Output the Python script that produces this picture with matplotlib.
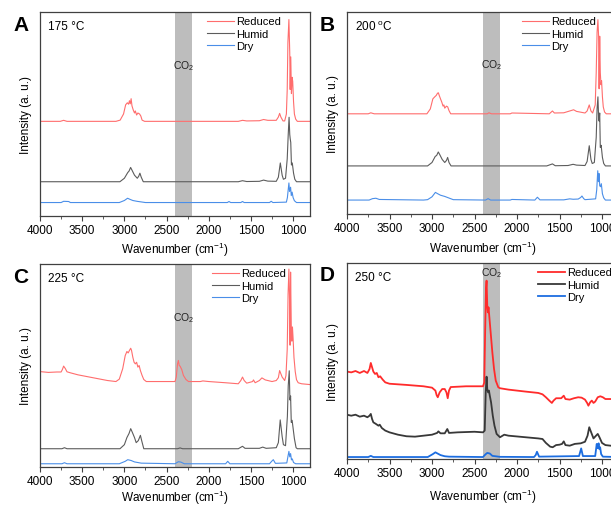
import numpy as np
import matplotlib
matplotlib.use('Agg')
import matplotlib.pyplot as plt
from matplotlib.ticker import MultipleLocator

plt.rcParams['font.family'] = ['Liberation Sans', 'DejaVu Sans']
plt.rcParams['mathtext.fontset'] = 'custom'
plt.rcParams['mathtext.rm'] = 'Liberation Sans'
plt.rcParams['mathtext.it'] = 'Liberation Sans:italic'
plt.rcParams['mathtext.bf'] = 'Liberation Sans:bold'

# ---- data (wavenumber, intensity in a.u. 0-100) ----
labels = ['Reduced', 'Humid', 'Dry']
temps = ['175 °C', '200 $^{\\rm o}$C', '225 °C', '250 °C']
panel_letters = ['A', 'B', 'C', 'D']

# A, 175 C
a_red_wn = [4000, 3760, 3720, 3680, 3100, 3050, 3010, 2985, 2965, 2950, 2940, 2930, 2920, 2910, 2895,
            2880, 2870, 2855, 2840, 2820, 2805, 2790, 2760, 1650, 1600, 1550, 1400, 1350, 1300, 1200,
            1175, 1160, 1145, 1120, 1100, 1080, 1070, 1062, 1050, 1045, 1040, 1035, 1028, 1020, 1012,
            1005, 995, 985, 970, 950, 800]
a_red = [46.4, 46.4, 46.9, 46.4, 46.4, 47.0, 50.0, 54.5, 55.5, 54.8, 56.5, 55.0, 57.5, 54.0, 52.0,
         50.5, 51.5, 49.5, 50.5, 50.0, 49.0, 47.0, 46.4, 46.4, 46.9, 46.6, 46.7, 47.3, 46.9, 46.9,
         48.5, 50.3, 48.5, 46.6, 46.6, 50.0, 62.0, 85.0, 96.3, 88.0, 80.0, 62.0, 78.0, 60.0, 68.0,
         66.0, 56.0, 50.0, 47.5, 46.4, 46.4]
a_hum_wn = [4000, 3100, 3053, 3000, 2960, 2945, 2926, 2910, 2880, 2847, 2830, 2816, 2800, 2776, 1650,
            1600, 1550, 1400, 1350, 1300, 1200, 1175, 1152, 1130, 1115, 1090, 1070, 1058, 1048, 1040,
            1035, 1028, 1020, 1010, 995, 980, 960, 800]
a_hum = [16.8, 16.8, 16.8, 18.5, 21.3, 22.0, 23.8, 22.5, 20.0, 18.5, 19.5, 21.0, 19.0, 16.8, 16.8,
         17.3, 16.9, 17.0, 17.6, 17.1, 17.0, 19.0, 26.0, 20.0, 18.0, 18.5, 28.0, 40.0, 48.4, 40.0,
         38.0, 36.0, 25.0, 26.0, 21.0, 18.0, 16.8, 16.8]
a_dry_wn = [4000, 3750, 3720, 3660, 3640, 3060, 3000, 2962, 2930, 2900, 2850, 2800, 2750, 1780, 1760,
            1740, 1620, 1600, 1580, 1280, 1260, 1240, 1080, 1068, 1050, 1042, 1030, 1022, 1012, 1000,
            985, 960, 800]
a_dry = [6.6, 6.6, 7.2, 7.1, 6.6, 6.6, 7.6, 8.7, 8.1, 7.6, 7.2, 6.9, 6.6, 6.6, 7.1,
         6.6, 6.6, 7.1, 6.6, 6.6, 7.2, 6.6, 6.8, 9.0, 16.2, 12.0, 14.1, 10.0, 11.7, 9.0,
         7.5, 6.6, 6.6]

# B, 200 C
b_red_wn = [4000, 3750, 3720, 3680, 3060, 3020, 2990, 2970, 2950, 2935, 2925, 2915, 2900, 2885, 2870,
            2860, 2850, 2830, 2815, 2800, 2780, 2350, 2330, 2300, 2080, 2060, 1620, 1583, 1560, 1450,
            1380, 1334, 1300, 1200, 1175, 1150, 1130, 1110, 1080, 1068, 1058, 1048, 1040, 1034, 1027,
            1020, 1012, 1005, 995, 985, 970, 950, 800]
b_red = [49.6, 49.6, 50.1, 49.6, 49.6, 52.0, 57.0, 57.9, 58.7, 59.8, 60.0, 58.7, 57.0, 55.4, 53.4,
         54.0, 52.4, 53.4, 53.0, 51.2, 49.6, 49.6, 50.1, 49.6, 49.6, 50.0, 49.6, 51.0, 50.0, 50.1,
         51.0, 51.6, 50.8, 50.0, 51.0, 54.0, 51.0, 50.0, 54.0, 70.0, 90.0, 96.2, 88.0, 62.0, 88.0,
         70.0, 64.0, 66.0, 58.0, 53.0, 50.5, 49.6, 49.6]
b_hum_wn = [4000, 3100, 3052, 3000, 2962, 2945, 2926, 2910, 2880, 2850, 2830, 2816, 2800, 2776, 1650,
            1583, 1550, 1400, 1340, 1300, 1200, 1175, 1150, 1130, 1115, 1090, 1068, 1058, 1048, 1040,
            1034, 1027, 1020, 1010, 995, 980, 960, 800]
b_hum = [23.8, 23.8, 23.8, 25.5, 28.5, 29.0, 30.7, 29.5, 27.0, 25.5, 26.5, 28.0, 25.5, 23.8, 23.8,
         24.8, 23.9, 24.0, 24.6, 24.2, 24.0, 26.0, 33.8, 27.0, 25.0, 25.5, 38.0, 52.0, 58.0, 48.0,
         46.0, 50.0, 33.0, 34.0, 28.0, 25.0, 23.8, 23.8]
b_dry_wn = [4000, 3740, 3700, 3660, 3620, 3100, 3052, 3000, 2960, 2940, 2900, 2850, 2800, 2750, 2370,
            2340, 2310, 2080, 2060, 1790, 1760, 1730, 1450, 1380, 1340, 1280, 1250, 1236, 1215, 1200,
            1075, 1062, 1050, 1042, 1034, 1027, 1018, 1008, 995, 980, 960, 800]
b_dry = [6.9, 6.9, 7.6, 7.8, 7.2, 6.9, 7.1, 8.5, 10.7, 10.2, 9.3, 8.7, 7.9, 7.1, 6.9,
         7.6, 6.9, 6.9, 7.2, 6.9, 8.3, 7.0, 7.0, 7.5, 7.3, 7.4, 8.2, 8.9, 7.6, 7.1,
         7.5, 12.0, 21.4, 16.0, 20.0, 14.0, 13.5, 15.0, 10.0, 8.0, 6.9, 6.9]

# C, 225 C
c_red_wn = [4000, 3900, 3800, 3750, 3735, 3720, 3700, 3680, 3640, 3550, 3450, 3300, 3200, 3100, 3060,
            3020, 2990, 2970, 2955, 2940, 2925, 2915, 2900, 2885, 2870, 2855, 2840, 2825, 2810, 2790,
            2770, 2740, 2400, 2385, 2370, 2360, 2350, 2340, 2320, 2300, 2270, 2240, 2100, 2070, 2000,
            1800, 1650, 1620, 1600, 1580, 1550, 1480, 1470, 1450, 1400, 1370, 1330, 1250, 1200, 1175,
            1160, 1130, 1100, 1085, 1070, 1060, 1050, 1042, 1036, 1030, 1022, 1015, 1008, 1000, 990,
            975, 960, 940, 900, 800]
c_red = [47.0, 46.6, 46.8, 46.8, 48.0, 49.7, 48.5, 46.9, 46.4, 45.4, 44.6, 43.4, 42.6, 42.1, 43.3,
         48.4, 54.9, 56.9, 56.2, 57.4, 58.5, 57.4, 54.1, 51.6, 50.8, 51.6, 49.2, 50.0, 47.5, 45.1,
         43.1, 42.1, 42.1, 44.3, 50.8, 52.5, 50.0, 49.7, 48.0, 45.1, 43.1, 42.1, 42.1, 42.4, 42.1,
         41.5, 41.0, 42.6, 44.3, 42.6, 41.3, 42.1, 42.9, 41.5, 42.6, 43.9, 42.9, 42.1, 42.6, 44.0,
         47.5, 44.3, 42.6, 45.0, 58.0, 85.0, 97.5, 82.0, 60.0, 96.0, 70.0, 62.0, 69.0, 63.0, 54.0,
         47.0, 43.0, 41.5, 41.0, 40.6]
c_hum_wn = [4000, 3740, 3710, 3680, 3100, 3052, 3000, 2970, 2945, 2925, 2905, 2880, 2860, 2835, 2810,
            2795, 2770, 2370, 2340, 2310, 1650, 1600, 1570, 1400, 1360, 1320, 1200, 1175, 1153, 1130,
            1115, 1090, 1068, 1058, 1046, 1038, 1030, 1022, 1012, 1000, 985, 965, 950, 800]
c_hum = [9.0, 9.0, 9.5, 9.0, 9.0, 9.0, 11.0, 14.5, 16.5, 18.9, 17.0, 14.5, 12.0, 13.0, 15.6,
         13.0, 9.0, 9.0, 9.4, 9.0, 9.0, 10.2, 9.2, 9.2, 9.8, 9.2, 9.5, 12.0, 23.2, 15.0,
         11.0, 10.5, 25.0, 40.0, 47.4, 33.0, 35.0, 22.0, 23.0, 19.0, 14.0, 9.5, 9.0, 9.0]
c_dry_wn = [4000, 3740, 3710, 3680, 3060, 2990, 2960, 2920, 2880, 2800, 2400, 2360, 2330, 2290, 1800,
            1775, 1750, 1280, 1250, 1235, 1210, 1075, 1060, 1050, 1040, 1030, 1020, 1010, 995, 970, 800]
c_dry = [1.6, 1.6, 2.1, 1.6, 1.6, 2.8, 3.6, 3.2, 2.5, 1.9, 1.6, 2.6, 2.4, 1.6, 1.6,
         2.8, 1.6, 1.6, 3.0, 3.6, 1.8, 2.0, 5.5, 7.7, 5.0, 6.6, 3.5, 4.0, 2.2, 1.6, 1.6]

# D, 250 C
d_red_wn = [4000, 3950, 3900, 3850, 3800, 3760, 3735, 3720, 3705, 3690, 3670, 3650, 3630, 3610, 3580,
            3550, 3500, 3400, 3300, 3100, 3000, 2960, 2945, 2932, 2910, 2880, 2850, 2830, 2815, 2800,
            2780, 2600, 2400, 2385, 2375, 2365, 2358, 2350, 2343, 2335, 2325, 2310, 2290, 2270, 2250,
            2220, 2200, 2100, 1900, 1750, 1700, 1660, 1620, 1590, 1570, 1540, 1480, 1450, 1430, 1380,
            1330, 1280, 1240, 1200, 1175, 1160, 1140, 1120, 1100, 1080, 1050, 1020, 990, 960, 900, 800]
d_red = [44.6, 44.2, 44.9, 43.9, 44.9, 43.9, 45.9, 49.0, 46.8, 44.6, 43.4, 43.9, 41.7, 42.2, 40.5,
         39.1, 38.4, 38.1, 37.8, 37.1, 36.4, 34.9, 32.5, 31.5, 34.0, 35.7, 35.7, 34.0, 31.0, 34.9,
         36.7, 37.1, 37.1, 39.1, 64.6, 86.7, 91.0, 78.2, 74.8, 77.4, 72.3, 64.6, 54.4, 45.9, 40.0,
         36.6, 36.1, 35.4, 34.4, 33.7, 33.0, 31.5, 29.8, 28.6, 29.8, 31.0, 31.0, 32.3, 30.6, 30.3,
         31.0, 31.5, 31.3, 30.3, 28.6, 27.2, 28.9, 29.8, 28.6, 29.3, 31.5, 32.0, 31.5, 30.6, 30.6, 30.3]
d_hum_wn = [4000, 3950, 3900, 3850, 3800, 3760, 3735, 3720, 3705, 3690, 3660, 3630, 3615, 3590, 3550,
            3500, 3400, 3300, 3200, 3100, 3000, 2940, 2925, 2900, 2850, 2820, 2800, 2700, 2500, 2400,
            2380, 2368, 2358, 2350, 2340, 2330, 2320, 2305, 2285, 2265, 2240, 2200, 2150, 2100, 1900,
            1750, 1700, 1660, 1610, 1580, 1540, 1500, 1470, 1450, 1430, 1380, 1320, 1250, 1200, 1170,
            1150, 1130, 1100, 1070, 1050, 1030, 1000, 960, 900, 800]
d_hum = [22.6, 22.1, 22.6, 21.6, 22.1, 21.3, 22.1, 23.0, 20.4, 18.7, 17.9, 17.0, 17.5, 15.8, 14.5,
         13.6, 12.4, 11.6, 11.4, 11.9, 12.4, 13.3, 14.1, 13.1, 13.1, 15.3, 13.3, 13.6, 13.9, 13.6,
         14.5, 34.0, 42.0, 35.7, 34.0, 34.9, 32.3, 28.9, 22.1, 17.0, 12.8, 11.1, 12.4, 11.9, 11.1,
         10.5, 10.2, 8.2, 6.3, 6.0, 7.1, 7.3, 7.7, 9.0, 7.1, 6.8, 7.7, 8.0, 8.8, 11.9,
         16.2, 13.9, 10.5, 11.9, 12.8, 11.1, 8.2, 7.1, 6.8, 6.5]
d_dry_wn = [4000, 3750, 3720, 3690, 3050, 2990, 2960, 2900, 2850, 2800, 2400, 2370, 2350, 2320, 2290,
            2200, 1800, 1780, 1765, 1740, 1270, 1245, 1225, 1080, 1062, 1050, 1040, 1032, 1022, 1010,
            990, 800]
d_dry = [1.0, 1.0, 1.6, 1.0, 1.0, 2.5, 3.4, 2.0, 1.4, 1.2, 1.0, 2.4, 3.1, 2.8, 1.6,
         1.1, 1.0, 2.0, 3.7, 1.2, 1.5, 5.4, 1.5, 1.5, 7.7, 5.5, 8.0, 5.1, 6.0, 2.5,
         1.2, 1.0]

panel_data = [
    [(a_red_wn, a_red), (a_hum_wn, a_hum), (a_dry_wn, a_dry)],
    [(b_red_wn, b_red), (b_hum_wn, b_hum), (b_dry_wn, b_dry)],
    [(c_red_wn, c_red), (c_hum_wn, c_hum), (c_dry_wn, c_dry)],
    [(d_red_wn, d_red), (d_hum_wn, d_hum), (d_dry_wn, d_dry)],
]

# ---- layout (pixels -> figure fractions) ----
W, H = 611, 506
axes_px = [(40, 13, 270, 204), (347, 13, 272, 202), (40, 265, 270, 203), (347, 264, 272, 196)]
legend_x = [0.603, 0.627, 0.622, 0.686]
co2_y = [0.74, 0.74, 0.74, 0.955]
xlabel_pad = [3, 4, 1, 6]
light = ['#ff6d6d', '#5c5c5c', '#4a8ee8']
dark = ['#ff2b2b', '#383838', '#1c6de0']

fig = plt.figure(figsize=(W / 100, H / 100), dpi=100)

for i in range(4):
    x0, y0, w, h = axes_px[i]
    ax = fig.add_axes([x0 / W, 1 - (y0 + h) / H, w / W, h / H])
    colors = dark if i == 3 else light
    lw = 1.3 if i == 3 else 0.8
    ax.axvspan(2400, 2200, color='#bdbdbd', lw=0, zorder=0)
    for (wn, val), c, lab in zip(panel_data[i], colors, labels):
        ax.plot(wn, val, color=c, lw=lw, label=lab, zorder=2)
    ax.set_xlim(4000, 800)
    ax.set_ylim(0, 100)
    ax.xaxis.set_major_locator(MultipleLocator(500))
    ax.xaxis.set_minor_locator(MultipleLocator(250))
    ax.set_yticks([])
    ax.tick_params(axis='x', which='major', direction='out', length=3.5, width=0.8,
                   labelsize=8.5, pad=2, color='#404040')
    ax.tick_params(axis='x', which='minor', direction='out', length=2, width=0.6, color='#404040')
    for s in ax.spines.values():
        s.set_color('#404040')
        s.set_linewidth(0.9)
    ax.set_xlabel('Wavenumber (cm$^{-1}$)', fontsize=8.5, labelpad=xlabel_pad[i])
    ax.set_ylabel('Intensity (a. u.)', fontsize=8.5, labelpad=6)
    ax.text(0.03, 0.93, temps[i], transform=ax.transAxes, fontsize=8.5, va='center', ha='left')
    ax.text(2300, co2_y[i], 'CO$_2$', transform=ax.get_xaxis_transform(),
            fontsize=7.5, ha='center', va='center', color='#222222')
    ax.text(-0.1, 0.94, panel_letters[i], transform=ax.transAxes, fontsize=15,
            fontweight='bold', va='center', ha='left')
    ax.legend(loc='upper left', bbox_to_anchor=(legend_x[i], 1.0), frameon=False, fontsize=8,
              handlelength=2.4, handletextpad=0.2, labelspacing=0.22, borderaxespad=0.0)

fig.savefig('out.png', dpi=100)
